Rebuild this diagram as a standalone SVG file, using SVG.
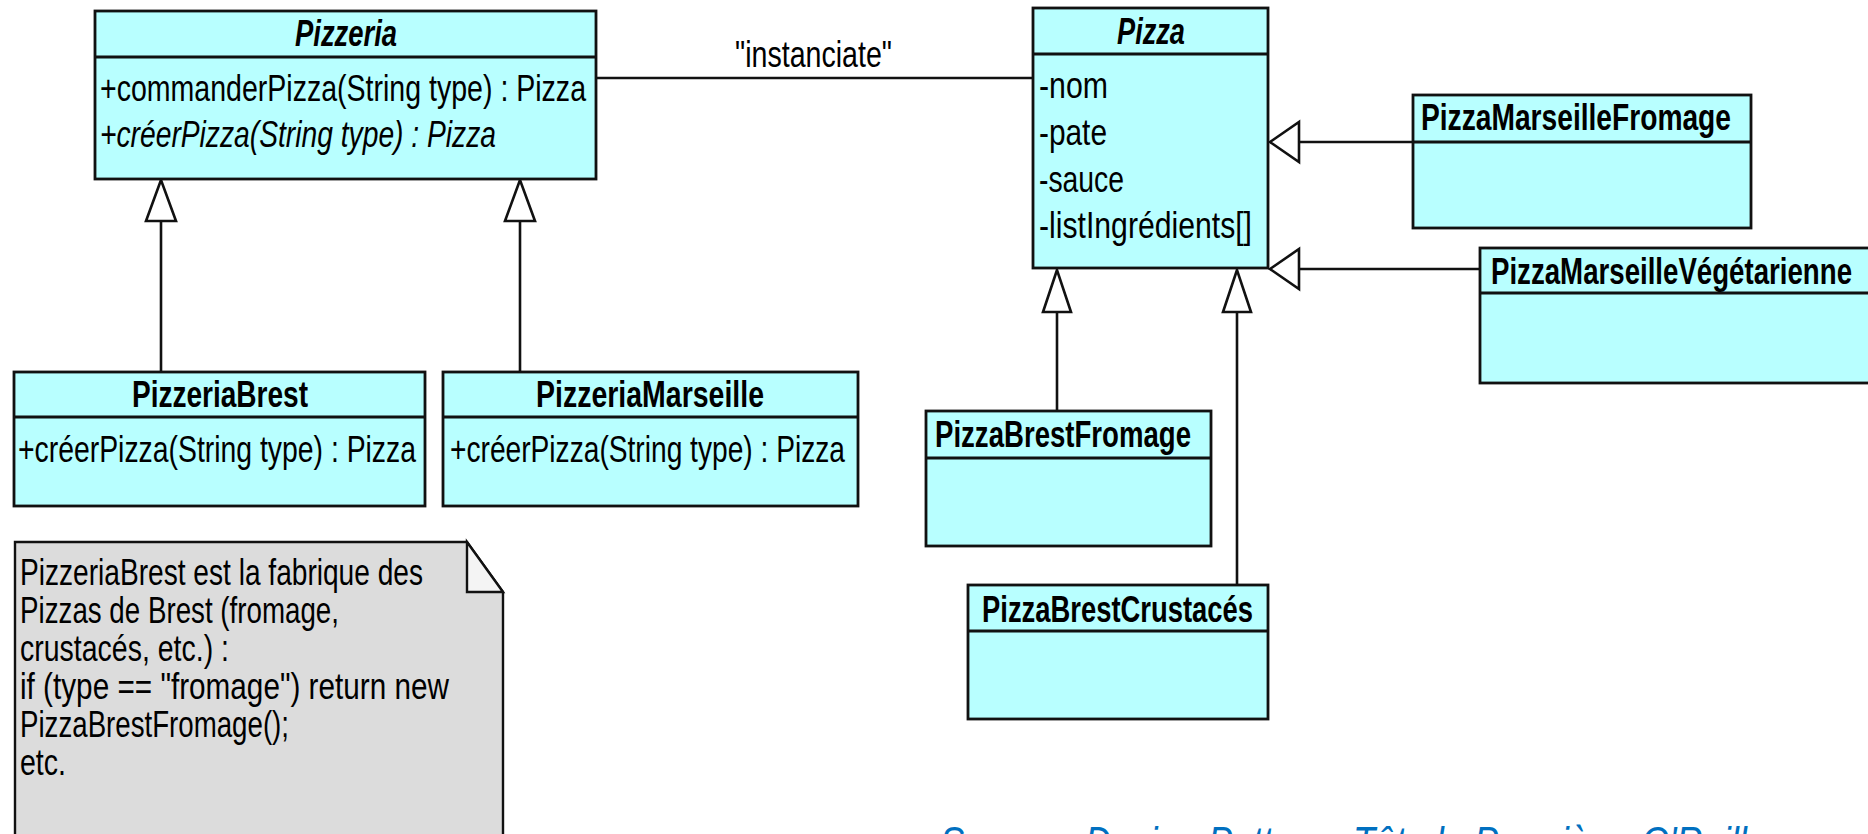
<svg xmlns="http://www.w3.org/2000/svg" width="1868" height="834" viewBox="0 0 1868 834">
<style>
  .box { fill: #b8ffff; stroke: #111; stroke-width: 2.8; }
  .div { stroke: #111; stroke-width: 2.8; }
  .note { fill: #dcdcdc; stroke: #111; stroke-width: 2.4; }
  .fold { fill: #f4f4f4; stroke: #111; stroke-width: 2.4; }
  .t { font-family: "Liberation Sans Narrow", "Liberation Sans", Arial, sans-serif; font-size: 37px; fill: #000; }
  .b { font-weight: bold; }
  .i { font-style: italic; }
  .line { stroke: #111; stroke-width: 2.6; fill: none; }
  .tri { fill: #fff; stroke: #111; stroke-width: 2.6; stroke-linejoin: miter; }
  .src { font-family: "Liberation Sans", Arial, sans-serif; font-size: 44px; font-style: italic; fill: #0070c0; }
</style>

<g id="connectors">
  <line class="line" x1="596" y1="78" x2="1033" y2="78"/>
  <text class="t" x="735" y="67" textLength="157" lengthAdjust="spacingAndGlyphs">"instanciate"</text>
  <line class="line" x1="161" y1="221" x2="161" y2="372"/>
  <polygon class="tri" points="161,180 146,221 176,221"/>
  <line class="line" x1="520" y1="221" x2="520" y2="372"/>
  <polygon class="tri" points="520,180 505,221 535,221"/>
  <line class="line" x1="1057" y1="312" x2="1057" y2="411"/>
  <polygon class="tri" points="1057,270 1043,312 1071,312"/>
  <line class="line" x1="1237" y1="312" x2="1237" y2="585"/>
  <polygon class="tri" points="1237,270 1223,312 1251,312"/>
  <line class="line" x1="1299" y1="142" x2="1413" y2="142"/>
  <polygon class="tri" points="1270,142 1299,122 1299,162"/>
  <line class="line" x1="1299" y1="269" x2="1480" y2="269"/>
  <polygon class="tri" points="1270,269 1299,249 1299,289"/>
</g>

<g id="Pizzeria">
  <rect class="box" x="95" y="11" width="501" height="168"/>
  <line class="div" x1="95" y1="57" x2="596" y2="57"/>
  <text class="t b i" x="346" y="46" text-anchor="middle" textLength="102" lengthAdjust="spacingAndGlyphs">Pizzeria</text>
  <text class="t" x="100" y="101" textLength="486" lengthAdjust="spacingAndGlyphs">+commanderPizza(String type) : Pizza</text>
  <text class="t i" x="100" y="147" textLength="396" lengthAdjust="spacingAndGlyphs">+créerPizza(String type) : Pizza</text>
</g>

<g id="PizzeriaBrest">
  <rect class="box" x="14" y="372" width="411" height="134"/>
  <line class="div" x1="14" y1="417" x2="425" y2="417"/>
  <text class="t b" x="220" y="407" text-anchor="middle" textLength="176" lengthAdjust="spacingAndGlyphs">PizzeriaBrest</text>
  <text class="t" x="18" y="462" textLength="398" lengthAdjust="spacingAndGlyphs">+créerPizza(String type) : Pizza</text>
</g>

<g id="PizzeriaMarseille">
  <rect class="box" x="443" y="372" width="415" height="134"/>
  <line class="div" x1="443" y1="417" x2="858" y2="417"/>
  <text class="t b" x="650" y="407" text-anchor="middle" textLength="228" lengthAdjust="spacingAndGlyphs">PizzeriaMarseille</text>
  <text class="t" x="450" y="462" textLength="395" lengthAdjust="spacingAndGlyphs">+créerPizza(String type) : Pizza</text>
</g>

<g id="Note">
  <path class="note" d="M15,542 L467,542 L503,592 L503,850 L15,850 Z"/>
  <path class="fold" d="M467,542 L467,592 L503,592 Z"/>
  <text class="t" x="20" y="585" textLength="403" lengthAdjust="spacingAndGlyphs">PizzeriaBrest est la fabrique des</text>
  <text class="t" x="20" y="623" textLength="319" lengthAdjust="spacingAndGlyphs">Pizzas de Brest (fromage,</text>
  <text class="t" x="20" y="661" textLength="209" lengthAdjust="spacingAndGlyphs">crustacés, etc.) :</text>
  <text class="t" x="20" y="699" textLength="429" lengthAdjust="spacingAndGlyphs">if (type == "fromage") return new</text>
  <text class="t" x="20" y="737" textLength="269" lengthAdjust="spacingAndGlyphs">PizzaBrestFromage();</text>
  <text class="t" x="20" y="775" textLength="46" lengthAdjust="spacingAndGlyphs">etc.</text>
</g>

<g id="Pizza">
  <rect class="box" x="1033" y="8" width="235" height="260"/>
  <line class="div" x1="1033" y1="54" x2="1268" y2="54"/>
  <text class="t b i" x="1151" y="44" text-anchor="middle" textLength="68" lengthAdjust="spacingAndGlyphs">Pizza</text>
  <text class="t" x="1039" y="98" textLength="69" lengthAdjust="spacingAndGlyphs">-nom</text>
  <text class="t" x="1039" y="145" textLength="68" lengthAdjust="spacingAndGlyphs">-pate</text>
  <text class="t" x="1039" y="192" textLength="85" lengthAdjust="spacingAndGlyphs">-sauce</text>
  <text class="t" x="1039" y="238" textLength="213" lengthAdjust="spacingAndGlyphs">-listIngrédients[]</text>
</g>

<g id="PizzaMarseilleFromage">
  <rect class="box" x="1413" y="95" width="338" height="133"/>
  <line class="div" x1="1413" y1="142" x2="1751" y2="142"/>
  <text class="t b" x="1421" y="130" textLength="310" lengthAdjust="spacingAndGlyphs">PizzaMarseilleFromage</text>
</g>

<g id="PizzaMarseilleVegetarienne">
  <rect class="box" x="1480" y="248" width="400" height="135"/>
  <line class="div" x1="1480" y1="293" x2="1880" y2="293"/>
  <text class="t b" x="1491" y="284" textLength="361" lengthAdjust="spacingAndGlyphs">PizzaMarseilleVégétarienne</text>
</g>

<g id="PizzaBrestFromage">
  <rect class="box" x="926" y="411" width="285" height="135"/>
  <line class="div" x1="926" y1="458" x2="1211" y2="458"/>
  <text class="t b" x="935" y="447" textLength="256" lengthAdjust="spacingAndGlyphs">PizzaBrestFromage</text>
</g>

<g id="PizzaBrestCrustaces">
  <rect class="box" x="968" y="585" width="300" height="134"/>
  <line class="div" x1="968" y1="631" x2="1268" y2="631"/>
  <text class="t b" x="982" y="622" textLength="271" lengthAdjust="spacingAndGlyphs">PizzaBrestCrustacés</text>
</g>

<text class="src" x="940" y="858" textLength="825" lengthAdjust="spacingAndGlyphs">Source : Design Patterns Tête la Première, O'Reilly</text>
</svg>
